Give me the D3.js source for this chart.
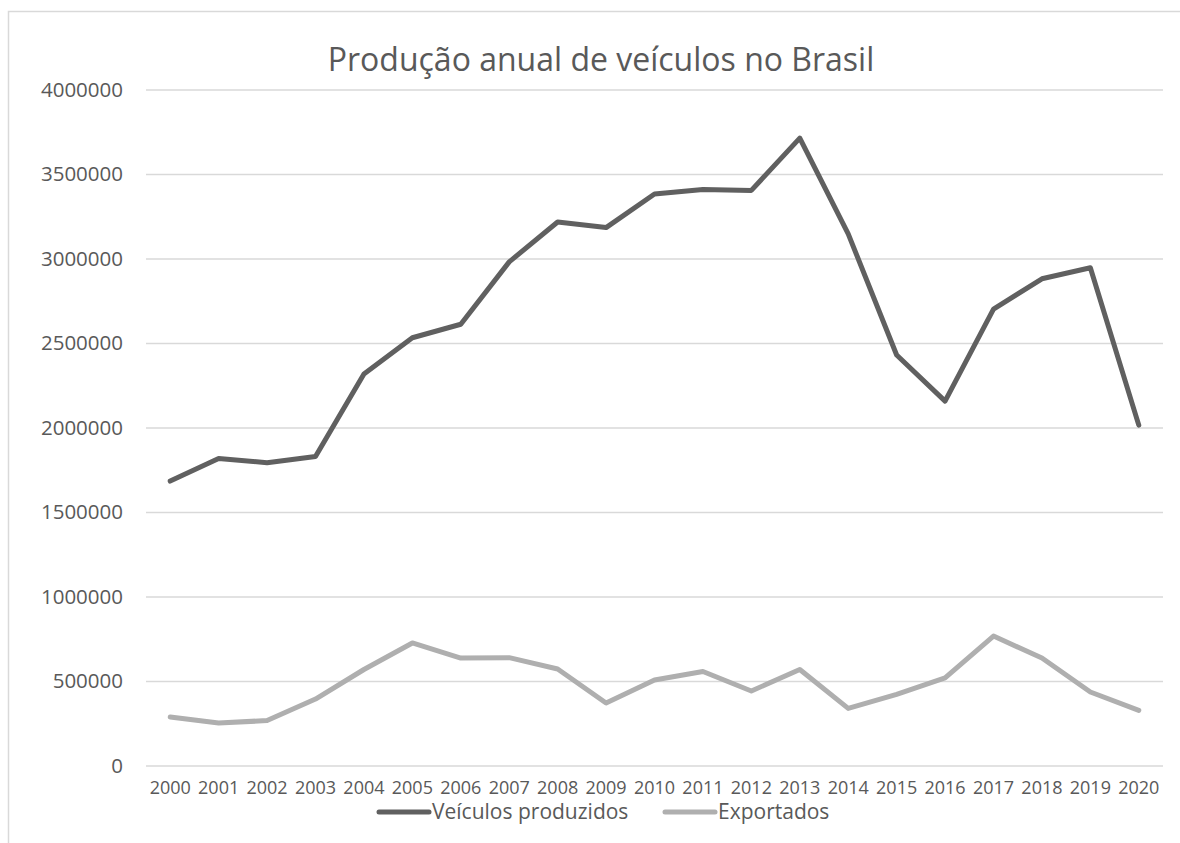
<!DOCTYPE html>
<html>
<head>
<meta charset="utf-8">
<script src="https://cdn.jsdelivr.net/npm/d3@7"></script>
<style>
body { margin: 0; background: #fff; }
text { font-family: "Open Sans", "Noto Sans", sans-serif; fill: #595959; }
</style>
</head>
<body>
<div id="chart"></div>
<script>
// dados
var anos = ["2000","2001","2002","2003","2004","2005","2006","2007","2008","2009","2010",
            "2011","2012","2013","2014","2015","2016","2017","2018","2019","2020"];
var produzidos = [1683000, 1817000, 1792000, 1828000, 2317000, 2531000, 2611000, 2980000, 3216000, 3183000, 3382000,
                  3408000, 3403000, 3712000, 3146000, 2429000, 2156000, 2700000, 2880000, 2945000, 2014000];
var exportados = [287000, 251000, 266000, 393000, 568000, 725000, 636000, 638000, 571000, 370000, 506000,
                  556000, 441000, 568000, 338000, 421000, 518000, 766000, 636000, 435000, 326000];
var yTicks = [0, 500000, 1000000, 1500000, 2000000, 2500000, 3000000, 3500000, 4000000];
var series = [
    {name: "Veículos produzidos", values: produzidos, color: "#606060"},
    {name: "Exportados", values: exportados, color: "#afafaf"}
];

var W = 1180, H = 843,
    margin = {top: 89.5, right: 17, bottom: 77.5, left: 146},
    width = W - margin.left - margin.right,
    height = H - margin.top - margin.bottom;

var svg = d3.select("#chart").append("svg").attr("width", W).attr("height", H);

// moldura
svg.append("rect")
    .attr("x", 8.5).attr("y", 11.5)
    .attr("width", W).attr("height", H)
    .attr("fill", "none").attr("stroke", "#d9d9d9").attr("stroke-width", 1.5);

var x = d3.scaleBand().domain(anos).range([0, width]);
var y = d3.scaleLinear().domain([0, 4000000]).range([height, 0]);

var g = svg.append("g").attr("transform", "translate(" + margin.left + "," + margin.top + ")");

// grade
g.append("g")
    .call(d3.axisLeft(y).tickValues(yTicks).tickSize(-width).tickFormat(""))
    .call(function(s) { s.select(".domain").remove(); })
    .selectAll("line").attr("stroke", "#d9d9d9").attr("stroke-width", 1.5);

// eixo y
g.append("g")
    .call(d3.axisLeft(y).tickValues(yTicks).tickSize(0).tickPadding(23).tickFormat(d3.format("d")))
    .call(function(s) { s.select(".domain").remove(); })
    .selectAll("text").style("font-size", "20.5px").attr("fill", "#595959");

// eixo x
g.append("g")
    .attr("transform", "translate(0," + height + ")")
    .call(d3.axisBottom(x).tickSize(0).tickPadding(16))
    .call(function(s) { s.select(".domain").remove(); })
    .selectAll("text").style("font-size", "18px").attr("fill", "#595959");

var line = d3.line()
    .x(function(d, i) { return x(anos[i]) + x.bandwidth() / 2; })
    .y(function(d) { return y(d); });

series.forEach(function(s) {
    g.append("path")
        .datum(s.values)
        .attr("d", line)
        .attr("fill", "none")
        .attr("stroke", s.color)
        .attr("stroke-width", 5)
        .attr("stroke-linejoin", "round")
        .attr("stroke-linecap", "round");
});

// título
svg.append("text")
    .attr("x", 601).attr("y", 71)
    .attr("text-anchor", "middle")
    .style("font-size", "32px")
    .text("Produção anual de veículos no Brasil");

// legenda
var legX = [379, 665];
var leg = svg.selectAll(".leg").data(series).enter().append("g")
    .attr("class", "leg")
    .attr("transform", function(d, i) { return "translate(" + legX[i] + ",812)"; });
leg.append("line")
    .attr("x1", 0).attr("x2", 50).attr("y1", 0).attr("y2", 0)
    .attr("stroke", function(d) { return d.color; })
    .attr("stroke-width", 5).attr("stroke-linecap", "round");
leg.append("text")
    .attr("x", 53).attr("y", 7)
    .style("font-size", "21px")
    .text(function(d) { return d.name; });
</script>
</body>
</html>
